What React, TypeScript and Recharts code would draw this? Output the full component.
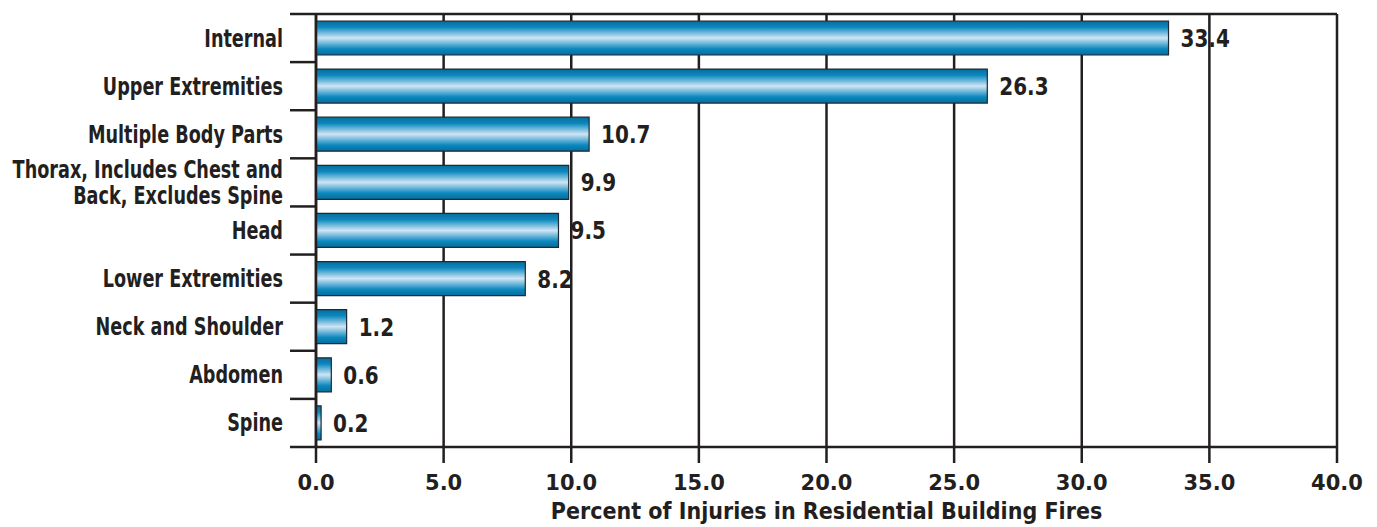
import { BarChart, Bar, XAxis, YAxis, CartesianGrid, LabelList } from "recharts";

const categories = [
  "Internal",
  "Upper Extremities",
  "Multiple Body Parts",
  "Thorax, Includes Chest and|Back, Excludes Spine",
  "Head",
  "Lower Extremities",
  "Neck and Shoulder",
  "Abdomen",
  "Spine",
];
const percents = [33.4, 26.3, 10.7, 9.9, 9.5, 8.2, 1.2, 0.6, 0.2];
const xTicks = [0, 5, 10, 15, 20, 25, 30, 35, 40];
const xTitle = "Percent of Injuries in Residential Building Fires";

const data = categories.map((name, i) => ({ name, value: percents[i] }));

const FONT = "'DejaVu Sans', sans-serif";
const INK = "#231f20";

// DejaVu is wide, so squeeze it horizontally to look like the condensed face
function CategoryTick(props: any) {
  const { x, y, payload, index } = props;
  const axisX = x + 8;
  const half = payload?.offset ?? 24;
  const lines = String(payload.value).split("|");
  const lh = 26;
  const start = -((lines.length - 1) * lh) / 2;
  return (
    <g>
      <line x1={axisX - 26} x2={axisX} y1={y - half} y2={y - half} stroke={INK} strokeWidth={2.5} />
      {index === categories.length - 1 && (
        <line x1={axisX - 26} x2={axisX} y1={y + half} y2={y + half} stroke={INK} strokeWidth={2.5} />
      )}
      <text
        transform={`translate(${axisX - 33},${y}) scale(0.735,1)`}
        x={0}
        y={0}
        textAnchor="end"
        fill={INK}
        fontFamily={FONT}
        fontWeight="bold"
        fontSize={24}
      >
        {lines.map((l, i) => (
          <tspan key={i} x={0} dy={i === 0 ? start + 8.5 : lh}>
            {l}
          </tspan>
        ))}
      </text>
    </g>
  );
}

function XTick(props: any) {
  const { x, y, payload } = props;
  return (
    <text x={x} y={y + 25} textAnchor="middle" fill={INK} fontFamily={FONT} fontWeight="bold" fontSize={21}>
      {Number(payload.value).toFixed(1)}
    </text>
  );
}

function XTitle(props: any) {
  const { viewBox } = props;
  if (!viewBox) return null;
  const cx = viewBox.x + viewBox.width / 2;
  const by = viewBox.y + viewBox.height - 8;
  return (
    <text
      transform={`translate(${cx},${by}) scale(0.9,1)`}
      x={0}
      y={0}
      textAnchor="middle"
      fill={INK}
      fontFamily={FONT}
      fontWeight="bold"
      fontSize={23}
    >
      {xTitle}
    </text>
  );
}

function ValueLabel(props: any) {
  const { x, y, width, height, value } = props;
  return (
    <text
      transform={`translate(${x + width + 12},${y + height / 2 + 9}) scale(0.8,1)`}
      x={0}
      y={0}
      fill={INK}
      fontFamily={FONT}
      fontWeight="bold"
      fontSize={25}
    >
      {Number(value).toFixed(1)}
    </text>
  );
}

export default function App() {
  return (
    <div style={{ position: "absolute", left: 0, top: 0, background: "#fff" }}>
      <BarChart
        width={1377}
        height={527}
        data={data}
        layout="vertical"
        margin={{ top: 14, right: 40, left: 0, bottom: 0 }}
        barSize={34}
      >
        <defs>
          <linearGradient id="barGrad" x1="0" y1="0" x2="0" y2="1">
            <stop offset="0%" stopColor="#0a6c99" />
            <stop offset="18%" stopColor="#0a88bf" />
            <stop offset="50%" stopColor="#cfe5f4" />
            <stop offset="82%" stopColor="#0a88bf" />
            <stop offset="100%" stopColor="#0a6c99" />
          </linearGradient>
        </defs>
        {/* vertical grid plus the top frame line */}
        <CartesianGrid
          vertical
          horizontal
          horizontalCoordinatesGenerator={({ offset }: any) => [offset.top]}
          stroke={INK}
          strokeWidth={2.5}
        />
        <XAxis
          type="number"
          domain={[0, 40]}
          ticks={xTicks}
          height={80}
          axisLine={{ stroke: INK, strokeWidth: 2.5 }}
          tickLine={{ stroke: INK, strokeWidth: 2.5 }}
          tickSize={16}
          tick={<XTick />}
          label={<XTitle />}
          interval={0}
        />
        <YAxis
          type="category"
          dataKey="name"
          width={316}
          axisLine={{ stroke: INK, strokeWidth: 2.5 }}
          tickLine={false}
          tick={<CategoryTick />}
          interval={0}
        />
        <Bar
          dataKey="value"
          fill="url(#barGrad)"
          stroke="#1d2a33"
          strokeWidth={1.2}
          isAnimationActive={false}
        >
          <LabelList dataKey="value" content={<ValueLabel />} />
        </Bar>
      </BarChart>
    </div>
  );
}
